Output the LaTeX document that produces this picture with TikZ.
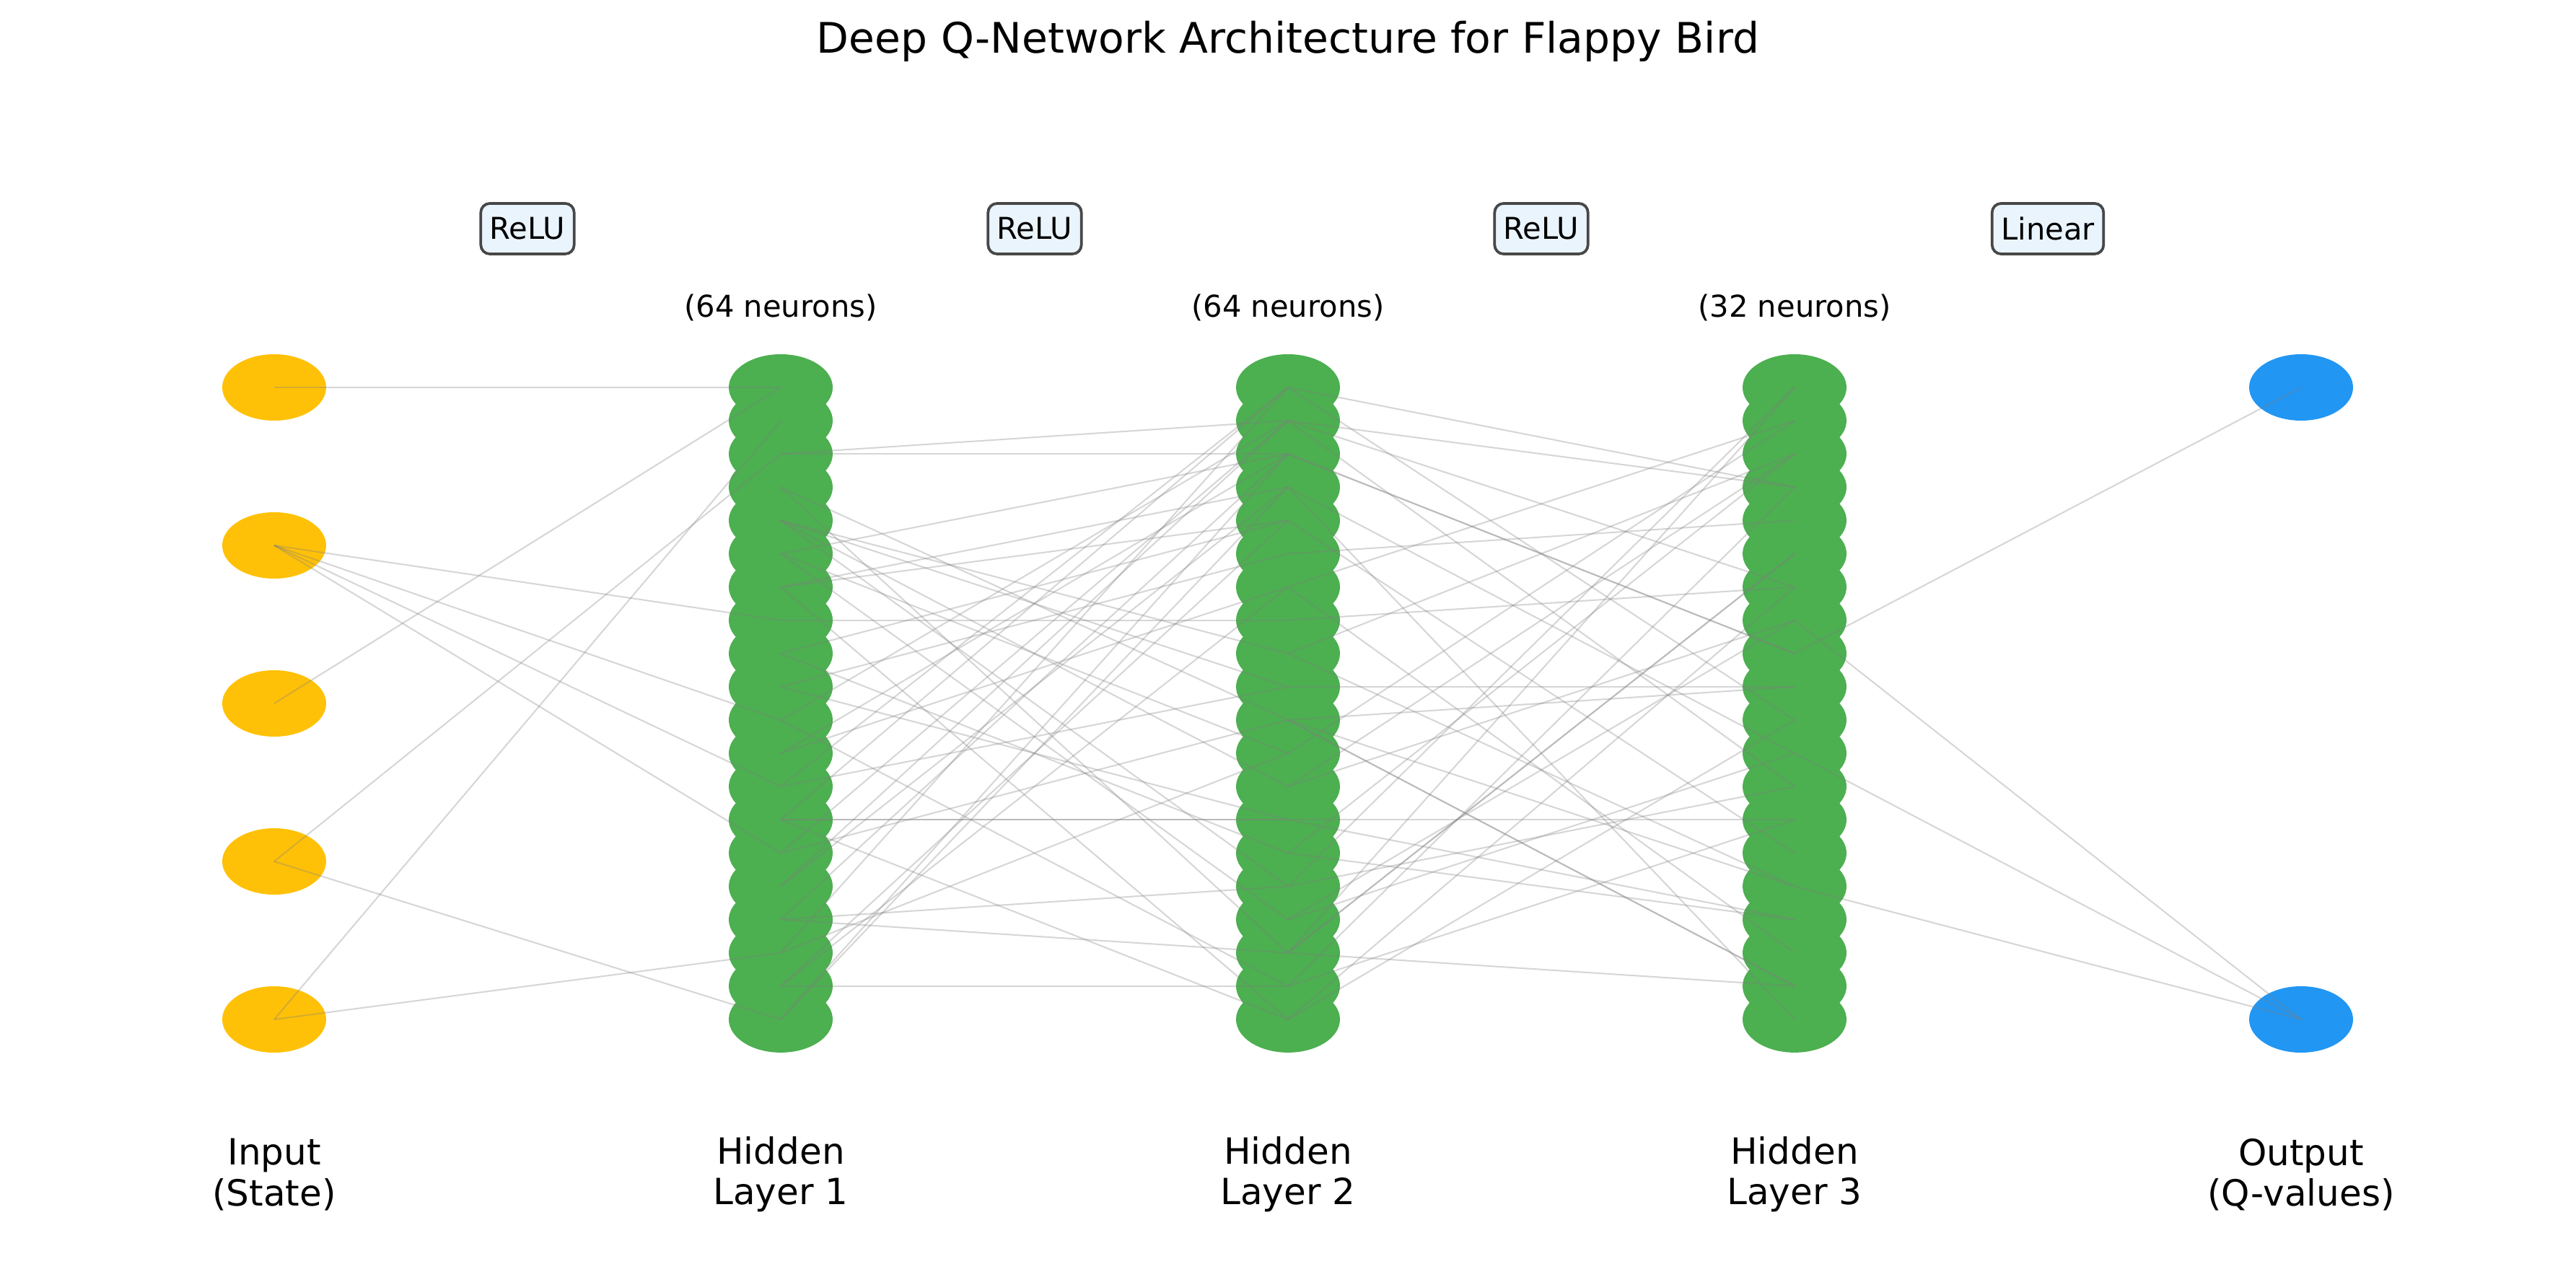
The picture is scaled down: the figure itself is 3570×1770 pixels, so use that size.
\documentclass[tikz,border=0pt]{standalone}
\usepackage{fontspec}
\setmainfont{DejaVu Sans}
\usetikzlibrary{shapes.geometric}
\definecolor{inpc}{HTML}{FFC107}
\definecolor{hidc}{HTML}{4CAF50}
\definecolor{outc}{HTML}{2196F3}
\definecolor{boxfill}{HTML}{EAF4FD}
\definecolor{boxedge}{HTML}{474747}
\begin{document}
\begin{tikzpicture}[x=0.24pt,y=-0.24pt,
  neuron/.style={ellipse, minimum width=34.56pt, minimum height=22.08pt, inner sep=0pt, draw=none},
  inneuron/.style={neuron, fill=inpc},
  hidneuron/.style={neuron, fill=hidc},
  outneuron/.style={neuron, fill=outc},
  conn/.style={draw=gray, opacity=0.32, line width=0.5pt},
  actbox/.style={draw=boxedge, fill=boxfill, rounded corners=3pt, line width=0.9pt, font=\fontsize{10}{12}\selectfont, inner xsep=3pt, inner ysep=0pt, minimum height=16.8pt},
  layerlabel/.style={align=center, font=\fontsize{12}{13.5}\selectfont, inner sep=0pt},
  countlabel/.style={font=\fontsize{10}{12}\selectfont, inner sep=0pt},
  titlelabel/.style={font=\fontsize{14}{16}\selectfont, inner sep=0pt}
]
\useasboundingbox (0,0) rectangle (3570,1770);

% title
\node[titlelabel] (title) at (1785,57) {Deep Q-Network Architecture for Flappy Bird};

% input layer
\foreach \k in {0,...,4} {
  \node[inneuron] (i\k) at (380,{537+219*\k}) {};
}
% hidden layers
\foreach \k in {0,...,19} {
  \node[hidneuron] (a\k) at (1082,{537+46.1*\k}) {};
}
\foreach \k in {0,...,19} {
  \node[hidneuron] (b\k) at (1785,{537+46.1*\k}) {};
}
\foreach \k in {0,...,19} {
  \node[hidneuron] (c\k) at (2487,{537+46.1*\k}) {};
}
% output layer
\node[outneuron] (o0) at (3189,537) {};
\node[outneuron] (o1) at (3189,1413) {};

% connections input -> hidden 1
\foreach \p/\q in {0/0,1/7,1/10,1/12,1/14,2/0,3/2,3/19,4/1,4/17} {
  \draw[conn] (i\p.center) -- (a\q.center);
}
% hidden 1 -> hidden 2
\foreach \p/\q in {2/1,2/2,7/7,13/13,13/13,18/18,3/17,4/8,4/9,4/12,4/15,16/17,16/15,13/19,6/4,6/3,5/2,9/5,14/1,12/0,15/1,16/2,17/0,19/3,11/2,10/1,13/0,15/3,19/2,8/14,5/11,5/16,10/18,11/6,12/9,14/10,17/11,18/4,18/6,8/4,3/10,6/19,9/13} {
  \draw[conn] (a\p.center) -- (b\q.center);
}
% hidden 2 -> hidden 3
\foreach \p/\q in {0/3,1/3,1/6,2/8,2/8,17/0,15/0,12/2,5/4,7/6,9/9,10/9,13/13,17/18,10/18,10/18,17/5,17/5,14/16,10/15,13/16,0/10,1/12,3/11,4/14,6/17,8/15,11/1,14/2,16/7,18/3,19/10,16/11,3/19,12/7,15/12,19/6,6/1,18/13,8/2} {
  \draw[conn] (b\p.center) -- (c\q.center);
}
% hidden 3 -> output
\foreach \p/\q in {8/0,7/1,11/1,15/1} {
  \draw[conn] (c\p.center) -- (o\q.center);
}

% activation boxes
\node[actbox] (act1) at (731,317) {ReLU};
\node[actbox] (act2) at (1434,317) {ReLU};
\node[actbox] (act3) at (2136,317) {ReLU};
\node[actbox] (act4) at (2838,317) {Linear};

% neuron counts
\node[countlabel] (n1) at (1082,426) {(64 neurons)};
\node[countlabel] (n2) at (1785,426) {(64 neurons)};
\node[countlabel] (n3) at (2487,426) {(32 neurons)};

% layer labels
\node[layerlabel] (l0) at (380,1628) {Input\\(State)};
\node[layerlabel] (l1) at (1082,1628) {Hidden\\Layer 1};
\node[layerlabel] (l2) at (1785,1628) {Hidden\\Layer 2};
\node[layerlabel] (l3) at (2487,1628) {Hidden\\Layer 3};
\node[layerlabel] (l4) at (3189,1628) {Output\\(Q-values)};
\end{tikzpicture}
\end{document}
